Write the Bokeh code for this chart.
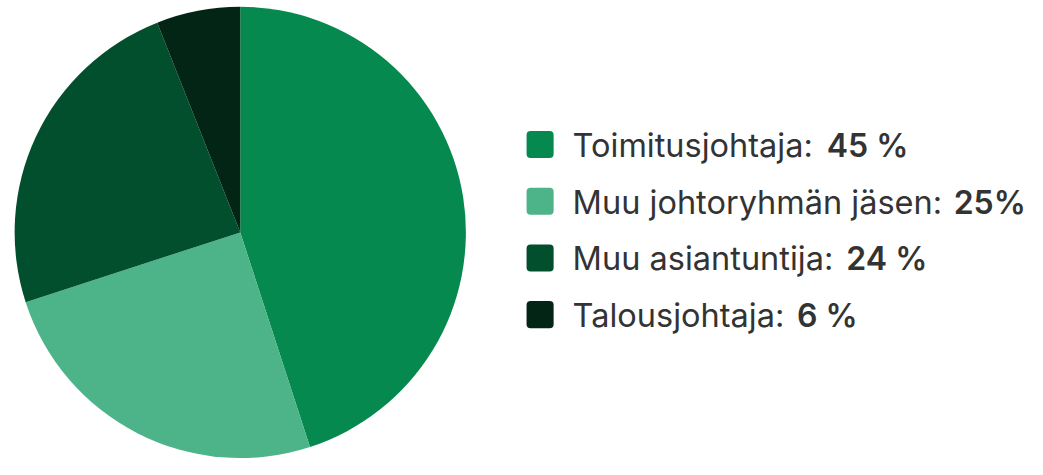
from bokeh.plotting import figure
from bokeh.models import Range1d
from bokeh.core.properties import value
from bokeh.embed import file_html
from bokeh.resources import INLINE
import math

categories = ["Toimitusjohtaja", "Muu johtoryhmän jäsen", "Muu asiantuntija", "Talousjohtaja"]
shares = [45, 25, 24, 6]
share_labels = ["45 %", "25%", "24 %", "6 %"]
colors = ["#05894f", "#4db388", "#024f2e", "#022516"]

W, H = 1027, 459
KX, KY = W / 1043, H / 475

p = figure(width=W, height=H, output_backend="svg", toolbar_location=None,
           x_range=Range1d(0, W), y_range=Range1d(0, H), min_border=0)
p.axis.visible = False
p.grid.visible = False
p.outline_line_color = None
p.background_fill_color = "white"

def X(x):
    return x * KX

def Y(y):
    return H - y * KY

# pie
cx, cy, r = 243.5, 240, 233.5
total = sum(shares)
start = math.pi / 2
starts, ends = [], []
for v in shares:
    a = 2 * math.pi * v / total
    starts.append(start - a)
    ends.append(start)
    start -= a
p.wedge(x=[X(cx)] * 4, y=[Y(cy)] * 4, radius=r * KY, radius_units="screen",
        start_angle=starts, end_angle=ends, fill_color=colors, line_color=None)

# legend
centers = [149 + 58.7 * i for i in range(4)]
bold_x = [839, 968, 859, 809]
for i in range(4):
    c = centers[i]
    p.rect(x=X(548), y=Y(c), width=28 * KY, height=28 * KY, width_units="screen",
           height_units="screen", fill_color=colors[i], line_color=None, border_radius=4)
    p.text(x=X(581), y=Y(c + 1), text=[categories[i] + ":"], text_font=value("Inter"),
           text_font_size="32.5px", text_color="#333333", text_baseline="middle", text_align="left")
    p.text(x=X(bold_x[i]), y=Y(c + 1), text=[share_labels[i]], text_font=value("Inter SemiBold"),
           text_font_size="32px", text_color="#333333",
           text_baseline="middle", text_align="left")

open("out.html", "w").write(file_html(p, INLINE))
